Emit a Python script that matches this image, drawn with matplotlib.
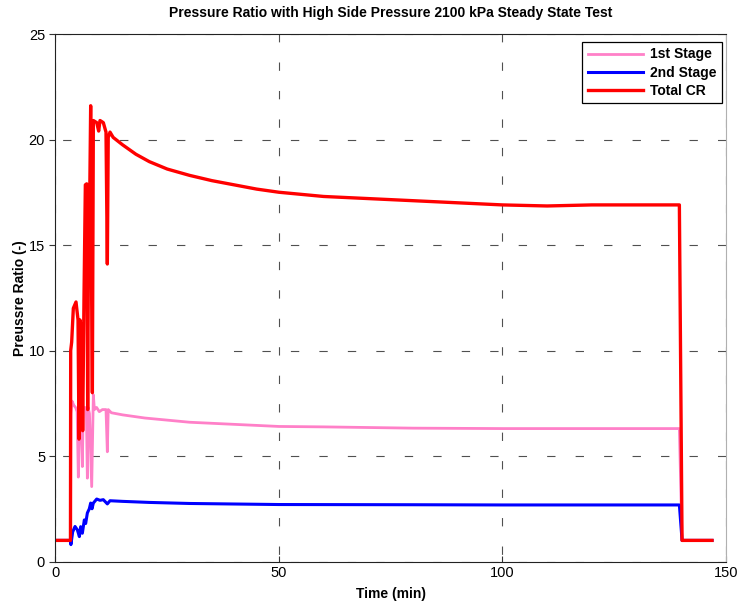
import matplotlib.pyplot as plt

plt.rcParams['font.family'] = ['Liberation Sans', 'DejaVu Sans']
plt.rcParams['lines.scale_dashes'] = False

# Time (min) and pressure ratio
t_total = [0, 3.35, 3.4, 3.62, 3.99, 4.59, 5.04, 5.26, 5.48, 5.86, 6.08, 6.38, 6.68, 6.98,
           7.2, 7.43, 7.65, 7.87, 8.1, 8.25, 8.47, 9.22, 9.66, 9.96, 10.7, 11.3, 11.6,
           11.8, 12.2, 12.9, 15, 18, 21, 25, 30, 35, 40, 45, 50, 55, 60, 70, 80, 90,
           100, 110, 120, 130, 139.6, 140.2, 146.9]
total = [1.0, 1.0, 10.0, 10.4, 12.0, 12.3, 11.45, 5.8, 11.45, 11.0, 6.2, 12.55, 17.85, 17.9,
         7.2, 17.3, 17.1, 21.6, 12.2, 8.0, 20.9, 20.8, 20.4, 20.9, 20.8, 20.35, 14.1,
         20.1, 20.35, 20.1, 19.75, 19.3, 18.95, 18.6, 18.3, 18.05, 17.85, 17.65, 17.5, 17.4,
         17.3, 17.2, 17.1, 17.0, 16.9, 16.85, 16.9, 16.9, 16.9, 1.0, 1.0]

t_stage1 = [0, 3.35, 3.45, 3.7, 4.1, 4.5, 4.85, 5.11, 5.3, 5.6, 6.01, 6.2, 6.6, 6.9, 7.13,
            7.3, 7.6, 8.1, 8.47, 8.7, 9.2, 9.8, 10.5, 11.3, 11.6, 11.8, 12.5, 15, 20, 25,
            30, 40, 50, 60, 70, 80, 100, 120, 139.6, 140.2, 146.9]
stage1 = [1.0, 1.0, 7.0, 7.6, 7.4, 7.3, 7.1, 4.0, 7.2, 7.0, 4.5, 7.3, 7.3, 7.2, 3.95,
          7.3, 7.0, 3.55, 7.9, 7.2, 7.3, 7.1, 7.2, 7.2, 5.2, 7.2, 7.05, 6.95, 6.8, 6.7,
          6.6, 6.5, 6.4, 6.38, 6.35, 6.32, 6.3, 6.3, 6.3, 1.0, 1.0]

t_stage2 = [0, 3.35, 3.45, 3.84, 4.37, 4.89, 5.34, 5.63, 6.01, 6.45, 6.75, 7.13, 7.57, 7.87,
            8.17, 8.47, 9.22, 9.96, 10.7, 11.6, 12.2, 15, 21, 30, 50, 80, 100, 139.6,
            140.2, 146.9]
stage2 = [1.0, 1.0, 0.8, 1.4, 1.66, 1.5, 1.18, 1.65, 1.34, 1.97, 1.8, 2.3, 2.5, 2.77,
          2.5, 2.77, 2.96, 2.9, 2.93, 2.73, 2.88, 2.85, 2.8, 2.75, 2.7, 2.69, 2.68, 2.68,
          1.0, 1.0]

fig = plt.figure(figsize=(7.39, 6.05), dpi=100)
ax = fig.add_axes([0.0751, 0.0719, 0.9071, 0.8719])

ax.plot(t_stage1, stage1, color='#ff80c8', lw=2, label='1st Stage')
ax.plot(t_stage2, stage2, color='#0000ff', lw=2.2, label='2nd Stage')
ax.plot(t_total, total, color='#ff0000', lw=2.4, label='Total CR')

ax.set_xlim(0, 150)
ax.set_ylim(0, 25)
ax.set_xticks([0, 50, 100, 150])
ax.set_yticks([0, 5, 10, 15, 20, 25])
ax.tick_params(labelsize=10.5, length=4, color='#333333')
ax.tick_params(axis='x', direction='in')
ax.tick_params(axis='y', direction='out')

for sp in ['left', 'bottom', 'top']:
    ax.spines[sp].set_color('#222222')
ax.spines['right'].set_color('#b0b0b0')

ax.grid(True, color='#505050', lw=0.8, linestyle=(15, (6, 14.5)))

ax.set_title('Pressure Ratio with High Side Pressure 2100 kPa Steady State Test',
             fontsize=10, fontweight='bold', pad=12)
ax.set_xlabel('Time (min)', fontsize=10, fontweight='bold', labelpad=5)
ax.set_ylabel('Preussre Ratio (-)', fontsize=10, fontweight='bold', labelpad=1)

leg = ax.legend(loc='upper right', bbox_to_anchor=(0.995, 0.985), borderaxespad=0,
                fancybox=False, framealpha=1, edgecolor='black', handlelength=4.0,
                borderpad=0.4, labelspacing=0.3, handletextpad=0.5,
                prop={'weight': 'bold', 'size': 10})
leg.get_frame().set_linewidth(0.9)

fig.savefig('out.png', dpi=100)
